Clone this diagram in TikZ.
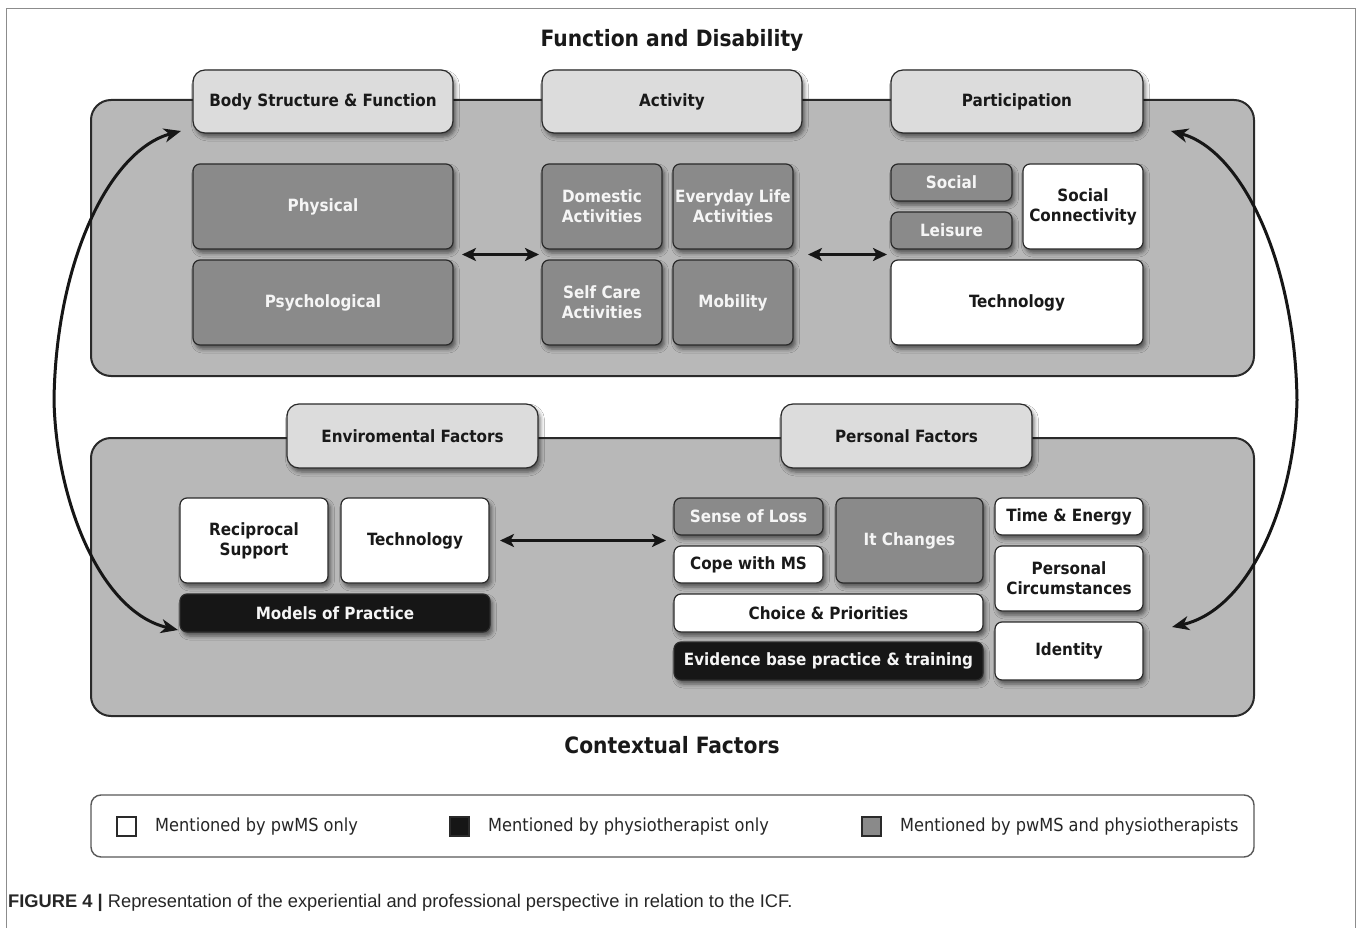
\documentclass[tikz,border=0pt]{standalone}
\usepackage{fontspec}
\setsansfont{DejaVu Sans Condensed}
\renewcommand\familydefault{\sfdefault}
\newfontfamily\capfont{Liberation Sans}
\usetikzlibrary{arrows.meta,calc,shadows.blur}

\definecolor{panelgrey}{HTML}{B8B8B8}
\definecolor{boxgrey}{HTML}{8A8A8A}
\definecolor{headgrey}{HTML}{DCDCDC}
\definecolor{inkline}{HTML}{2A2A2A}
\definecolor{nearblack}{HTML}{161616}
\definecolor{framegrey}{HTML}{8C8C8C}

\newcommand\labfont{\fontsize{16.9}{20}\selectfont\bfseries}
\newcommand\titlefont{\fontsize{22.5}{26}\selectfont\bfseries}
\newcommand\keyfont{\fontsize{18}{20}\selectfont}

\tikzset{
  cell/.style={draw=inkline, line width=1.2pt, rounded corners=7pt,
    outer sep=0pt, inner sep=1pt, align=center, font=\labfont,
    blur shadow={shadow xshift=2.5pt, shadow yshift=-4pt,
      shadow blur radius=4pt, shadow opacity=55}},
  dk/.style={cell, fill=boxgrey, text=white!96!black},
  wt/.style={cell, fill=white, text=black!90},
  bk/.style={cell, fill=nearblack, text=white!96!black},
  hd/.style={cell, fill=headgrey, text=black!90, rounded corners=12pt},
  panel/.style={draw=inkline, line width=2pt, fill=panelgrey, rounded corners=20pt},
  dblarr/.style={draw=nearblack, line width=2.8pt,
    {Stealth[length=14pt,width=13pt,inset=3.5pt]}-{Stealth[length=14pt,width=13pt,inset=3.5pt]}},
  arcarr/.style={draw=nearblack, line width=3pt,
    {Stealth[length=17pt,width=14pt,inset=5pt]}-{Stealth[length=17pt,width=14pt,inset=5pt]}},
  keybox/.style={draw=inkline, line width=1.2pt, minimum width=19pt, minimum height=19pt, inner sep=0pt},
  keytext/.style={anchor=west, font=\keyfont, text=black!85, inner sep=0pt},
}

\begin{document}
\begin{tikzpicture}[x=1pt,y=-1pt]
\useasboundingbox[fill=white] (0,0) rectangle (1360,928);

% figure frame
\draw[framegrey, line width=1pt] (6.5,928) -- (6.5,8.5) -- (1355.5,8.5) -- (1355.5,928);

% titles
\node[font=\titlefont, text=black!90] (ttop) at (672,40) {Function and Disability};
\node[font=\titlefont, text=black!90] (tbot) at (672,745) {Contextual Factors};

% panels
\draw[panel] (91,100) rectangle (1254,376);
\draw[panel] (91,438) rectangle (1254,716);

% long curved arrows linking the two panels
\coordinate (lt) at (181,131);
\coordinate (lb) at (178,630);
\coordinate (rt) at (1171,131);
\coordinate (rb) at (1172,627);
\draw[arcarr] (lt) .. controls (110,150) and (56,260) .. (54,400)
                   .. controls (56,500) and (100,612) .. (lb);
\draw[arcarr] (rt) .. controls (1241,150) and (1295,260) .. (1297,400)
                   .. controls (1295,500) and (1251,609) .. (rb);

% function and disability: headers
\node[hd, minimum width=260, minimum height=63] (body) at (323,101.5) {Body Structure \& Function};
\node[hd, minimum width=260, minimum height=63] (act)  at (672,101.5) {Activity};
\node[hd, minimum width=252, minimum height=63] (part) at (1017,101.5) {Participation};

% body structure & function
\node[dk, minimum width=260, minimum height=85] (phys) at (323,206.5) {Physical};
\node[dk, minimum width=260, minimum height=85] (psy)  at (323,302.5) {Psychological};

% activity
\node[dk, minimum width=120, minimum height=85] (dom)   at (602,206.5) {Domestic\\Activities};
\node[dk, minimum width=120, minimum height=85] (every) at (733,206.5) {Everyday Life\\Activities};
\node[dk, minimum width=120, minimum height=85] (selfc) at (602,302.5) {Self Care\\Activities};
\node[dk, minimum width=120, minimum height=85] (mob)   at (733,302.5) {Mobility};

% participation
\node[dk, minimum width=121, minimum height=37] (soc)   at (951.5,182.5) {Social};
\node[dk, minimum width=121, minimum height=37] (leis)  at (951.5,230.5) {Leisure};
\node[wt, minimum width=120, minimum height=85] (sconn) at (1083,206.5) {Social\\Connectivity};
\node[wt, minimum width=252, minimum height=85] (techa) at (1017,302.5) {Technology};

% links between the three columns
\draw[dblarr] ($(phys.south east)!0.5!(psy.north east)+(9,0)$) -- ($(dom.south west)!0.5!(selfc.north west)+(-3,0)$);
\draw[dblarr] ($(every.south east)!0.5!(mob.north east)+(15,0)$) -- ($(leis.south west)!0.5!(techa.north west)+(-4,0)$);

% contextual factors: headers
\node[hd, minimum width=251, minimum height=64] (env)  at (412.5,436) {Enviromental Factors};
\node[hd, minimum width=251, minimum height=64] (pers) at (906.5,436) {Personal Factors};

% environmental factors
\node[wt, minimum width=148, minimum height=85] (recip)  at (254,540.5) {Reciprocal\\Support};
\node[wt, minimum width=148, minimum height=85] (techb)  at (415,540.5) {Technology};
\node[bk, minimum width=310, minimum height=38] (models) at (335,613) {Models of Practice};

% personal factors
\node[dk, minimum width=149, minimum height=37] (sense)  at (748.5,516.5) {Sense of Loss};
\node[wt, minimum width=149, minimum height=37] (cope)   at (748.5,564.5) {Cope with MS};
\node[dk, minimum width=147, minimum height=85] (itch)   at (909.5,540.5) {It Changes};
\node[wt, minimum width=309, minimum height=38] (choice) at (828.5,613) {Choice \& Priorities};
\node[bk, minimum width=309, minimum height=38] (evid)   at (828.5,661) {Evidence base practice \& training};
\node[wt, minimum width=148, minimum height=37] (time)   at (1069,516.5) {Time \& Energy};
\node[wt, minimum width=148, minimum height=65] (pcirc)  at (1069,578.5) {Personal\\Circumstances};
\node[wt, minimum width=148, minimum height=58] (ident)  at (1069,651) {Identity};

\draw[dblarr] ($(techb.east)+(11,0)$) -- ($(sense.south west)!0.5!(cope.north west)+(-8,0)$);

% key
\draw[draw=black!65, line width=1.4pt, fill=white, rounded corners=10pt] (91,795) rectangle (1254,857);
\node[keybox, fill=white]     (kw) at (126.5,826.5) {};
\node[keybox, fill=nearblack] (kb) at (459.5,826.5) {};
\node[keybox, fill=boxgrey]   (kg) at (871.5,826.5) {};
\node[keytext] (kwt) at (155,826.5) {Mentioned by pwMS only};
\node[keytext] (kbt) at (488,826.5) {Mentioned by physiotherapist only};
\node[keytext] (kgt) at (900,826.5) {Mentioned by pwMS and physiotherapists};

% caption
\node[anchor=west, inner sep=0pt, font=\capfont\fontsize{18.3}{20}\selectfont, text=black!85] (cap) at (8,903)
  {{\bfseries FIGURE 4 \textbar} Representation of the experiential and professional perspective in relation to the ICF.};
\end{tikzpicture}
\end{document}
